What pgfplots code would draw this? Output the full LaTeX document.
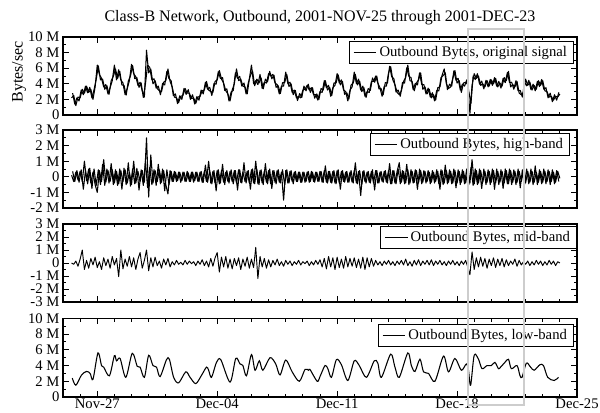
\documentclass[border=0pt]{standalone}
\usepackage{fontspec}
\setmainfont{Liberation Serif}
\usepackage{pgfplots}
\usepackage{pgfplotstable}
\pgfplotsset{compat=1.18}
\definecolor{boxgray}{RGB}{205,205,205}

\pgfplotstableread{
h O H M
12 2.2 0.1 0.0
15 2.5 -0.3 -0.1
18 1.2 0.3 0.15
21 2.3 -0.2 -0.25
24 2.2 0.35 0.3
27 3.3 -0.3 1.0
30 2.8 1.0 -0.5
33 3.7 -0.25 0.2
36 2.9 0.5 -0.4
39 3.3 -0.4 0.35
42 2.0 0.3 -0.15
45 3.6 -0.5 0.45
48 6.4 -1.0 -0.35
51 5.2 0.4 0.1
54 4.7 -0.3 -0.5
57 3.6 1.1 0.4
60 3.9 -0.35 -0.2
63 2.7 0.4 0.3
66 3.5 -0.3 -0.4
69 4.4 0.45 0.5
72 6.4 -0.4 -0.15
75 4.5 0.35 0.35
78 5.8 -0.45 -1.05
81 4.5 0.4 1.0
84 4.1 -0.3 -0.45
87 2.6 0.45 0.3
90 3.4 -0.4 -0.25
93 4.4 0.3 0.5
96 6.5 -0.5 -0.3
99 5.3 1.0 0.4
102 4.9 -0.4 -0.5
105 3.8 0.35 0.3
108 4.2 -0.3 0.8
111 3.1 0.4 -0.4
114 2.3 -0.35 0.2
117 8.3 2.5 1.0
120 5.4 -1.3 -0.6
123 5.9 1.4 0.4
126 4.0 -0.4 -0.3
129 4.4 0.4 0.45
132 3.4 -0.3 -0.2
135 3.1 0.45 0.15
138 3.0 -0.35 -0.4
141 4.2 0.4 0.3
144 4.4 -0.5 -0.15
147 5.9 -1.1 0.35
150 4.3 0.4 -0.3
153 3.6 -0.3 0.1
156 2.3 0.35 -0.15
159 2.2 -0.3 0.2
162 1.6 0.3 -0.1
165 2.4 -0.35 0.05
168 2.5 0.3 -0.15
171 3.4 -0.3 0.2
174 2.8 0.35 -0.1
177 2.8 -0.3 0.15
180 2.1 0.3 -0.05
183 2.2 -0.35 0.1
186 1.5 0.3 -0.2
189 2.3 -0.3 0.15
192 2.4 0.3 -0.1
195 3.1 -0.35 0.25
198 3.2 0.35 -0.2
201 4.3 -0.3 0.15
204 3.2 1.0 -0.3
207 3.0 -0.4 0.35
210 2.9 0.35 -0.25
213 4.3 -0.4 0.4
216 4.5 0.4 0.8
219 5.7 -0.45 -0.7
222 4.6 0.4 0.45
225 4.1 -0.35 -0.3
228 3.1 0.3 0.5
231 2.7 -0.3 -0.4
234 1.8 0.35 0.3
237 3.2 -0.3 -0.45
240 4.0 0.4 0.35
243 5.9 -0.4 -0.2
246 4.4 0.45 0.4
249 4.6 -0.35 -0.5
252 3.7 0.3 0.3
255 3.6 -0.3 -0.25
258 2.7 0.35 0.45
261 4.6 -0.4 -0.4
264 6.4 0.45 0.3
267 4.0 -0.4 -0.35
270 4.4 1.0 1.2
273 3.9 -0.45 -1.2
276 5.2 0.4 0.5
279 3.4 -0.4 -0.3
282 4.2 0.35 0.35
285 4.1 -0.35 -0.4
288 5.3 0.4 0.25
291 5.0 -0.45 -0.3
294 5.2 0.4 0.2
297 4.1 -0.35 -0.15
300 3.9 0.4 0.3
303 2.7 -0.35 -0.2
306 3.7 0.3 0.1
309 3.7 -1.5 -0.25
312 5.5 0.4 0.2
315 4.0 -0.4 -0.1
318 4.2 0.35 0.15
321 2.9 -0.3 -0.2
324 3.2 0.3 0.1
327 2.2 -0.3 -0.1
330 2.4 0.3 0.2
333 2.2 -0.35 -0.15
336 3.2 0.3 0.1
339 3.3 -0.35 -0.05
342 3.8 0.3 0.15
345 3.2 -0.35 -0.2
348 3.5 0.35 0.1
351 2.6 -0.3 -0.15
354 2.6 0.3 0.2
357 1.9 -0.3 -0.1
360 3.0 0.35 0.25
363 2.9 -0.35 -0.3
366 4.4 0.4 0.35
369 3.5 -0.35 -0.45
372 3.8 0.35 0.5
375 2.4 -0.35 -0.3
378 3.5 0.35 0.4
381 3.8 -0.4 -0.5
384 5.3 0.4 0.45
387 4.1 -0.4 -0.35
390 4.5 0.35 0.3
393 3.2 -0.3 -0.4
396 3.0 0.3 0.5
399 1.8 -0.35 -0.3
402 3.2 0.3 0.35
405 3.6 -0.35 -0.25
408 5.5 0.4 0.4
411 4.0 -0.4 -0.35
414 4.6 0.35 0.3
417 3.2 -1.2 -0.4
420 3.7 0.35 0.45
423 2.4 -0.3 -0.5
426 3.0 0.3 0.4
429 2.9 -0.35 -0.3
432 4.3 0.35 0.35
435 4.3 -0.4 -0.25
438 5.0 0.4 0.2
441 4.1 -0.4 -0.15
444 3.5 0.3 0.1
447 2.4 -0.3 -0.2
450 3.7 0.35 0.15
453 3.7 -0.35 -0.1
456 5.4 0.4 0.2
459 6.2 -0.45 -0.15
462 4.5 0.4 0.1
465 3.9 -0.4 -0.2
468 2.9 0.35 0.15
471 2.6 0.9 -0.1
474 3.1 -0.35 0.2
477 4.3 0.35 -0.15
480 4.8 -0.4 0.3
483 6.4 0.45 -0.2
486 4.4 -0.4 0.1
489 4.3 0.35 -0.25
492 3.1 -0.35 0.2
495 4.1 0.4 -0.15
498 4.5 -0.4 0.25
501 5.4 0.4 -0.2
504 3.3 -0.35 0.15
507 3.6 0.35 -0.1
510 2.7 -0.3 0.2
513 3.3 0.3 -0.15
516 2.2 -0.35 0.25
519 2.6 0.3 -0.2
522 1.9 -0.3 0.15
525 3.5 0.35 -0.1
528 3.6 -0.8 0.2
531 5.1 0.4 -0.15
534 5.9 -0.4 0.1
537 4.0 0.4 -0.2
540 3.4 -0.35 0.15
543 3.6 0.35 -0.1
546 4.7 -0.4 0.2
549 5.7 0.4 -0.15
552 4.1 -0.4 0.1
555 4.4 0.35 -0.2
558 2.9 -0.35 0.15
561 4.1 0.35 -0.1
564 4.2 -0.4 0.2
567 3.9 0.35 -0.3
570 0.2 -0.4 -0.9
573 3.8 1.1 0.85
576 5.3 -0.45 -0.5
579 4.7 0.4 0.4
582 5.0 -0.4 -0.3
585 3.8 0.4 0.45
588 4.0 -0.35 -0.25
591 3.6 0.35 0.35
594 4.4 -0.35 -0.4
597 3.7 0.35 0.3
600 4.5 -0.35 -0.2
603 4.0 0.4 0.4
606 4.7 -0.4 -0.35
609 3.6 0.35 0.3
612 4.1 -0.35 -0.2
615 3.7 0.35 0.35
618 4.8 -0.4 -0.3
621 4.4 0.4 0.25
624 5.6 -0.45 -0.2
627 3.6 0.4 0.15
630 3.9 -0.35 -0.1
633 3.6 0.35 0.3
636 4.3 -0.35 -0.25
639 2.8 0.35 0.2
642 2.6 -0.3 -0.15
645 2.9 0.35 0.1
648 4.6 -0.4 -0.1
651 3.8 0.35 0.15
654 4.2 -0.35 -0.2
657 3.2 0.35 0.1
660 3.8 -0.35 -0.15
663 3.3 0.3 0.2
666 4.4 -0.35 -0.1
669 3.8 0.35 0.15
672 4.4 -0.35 -0.2
675 3.1 0.35 0.1
678 3.0 -0.3 -0.15
681 2.3 0.35 0.2
684 2.4 -0.3 -0.1
687 1.9 0.3 0.15
690 2.4 -0.35 -0.2
693 2.3 0.35 0.1
696 2.7 -0.1 0.0
}\dense

\pgfplotstableread{
h Ob Hb
13.5 2.8 0.35
16.5 1.4 -0.3
19.5 2.2 0.4
22.5 1.8 -0.35
25.5 3.2 0.45
28.5 2.6 -0.8
31.5 3.7 0.4
34.5 2.85 -0.45
37.5 3.55 0.55
40.5 2.2 -0.75
43.5 3.25 0.5
46.5 4.55 -0.55
49.5 6.3 0.45
52.5 4.5 -0.5
55.5 4.6 0.8
58.5 3.3 -0.55
61.5 3.75 0.5
64.5 2.65 -0.4
67.5 4.4 0.85
70.5 4.95 -0.5
73.5 5.9 0.45
76.5 4.7 -0.55
79.5 5.6 0.5
82.5 3.85 -0.8
85.5 3.8 0.55
88.5 2.55 -0.5
91.5 4.35 0.9
94.5 5.0 -0.6
97.5 6.35 0.5
100.5 4.65 -0.45
103.5 4.8 0.55
106.5 3.55 -0.85
109.5 4.1 0.45
112.5 2.25 -0.55
115.5 4.0 1.0
118.5 6.4 -0.7
121.5 6.1 0.6
124.5 4.5 -0.5
127.5 4.65 0.45
130.5 3.45 -0.55
133.5 3.7 0.8
136.5 2.6 -0.45
139.5 4.05 0.5
142.5 3.85 -0.9
145.5 5.6 0.45
148.5 4.65 -0.5
151.5 4.4 0.35
154.5 2.5 -0.3
157.5 2.7 0.3
160.5 1.45 -0.25
163.5 2.45 0.3
166.5 2.0 -0.25
169.5 3.4 0.3
172.5 2.65 -0.3
175.5 3.25 0.25
178.5 2.0 -0.3
181.5 2.6 0.3
184.5 1.4 -0.25
187.5 2.35 0.3
190.5 1.9 -0.3
193.5 3.2 0.35
196.5 2.7 -0.35
199.5 4.2 0.75
202.5 3.3 -0.35
205.5 3.55 0.4
208.5 2.5 -0.45
211.5 4.05 0.4
214.5 3.95 -0.9
217.5 5.55 0.45
220.5 4.7 -0.4
223.5 4.8 0.8
226.5 3.15 -0.5
229.5 3.35 0.4
232.5 1.8 -0.4
235.5 2.95 0.45
238.5 3.15 -0.45
241.5 5.4 0.4
244.5 4.7 -0.85
247.5 4.95 0.45
250.5 3.7 -0.4
253.5 4.1 0.9
256.5 2.7 -0.4
259.5 4.1 0.4
262.5 5.05 -0.8
265.5 5.65 0.5
268.5 3.75 -0.45
271.5 4.6 0.5
274.5 4.1 -0.5
277.5 4.75 0.45
280.5 3.35 -0.5
283.5 4.6 0.85
286.5 4.25 -0.45
289.5 5.6 0.5
292.5 4.65 -0.75
295.5 5.1 0.4
298.5 3.55 -0.45
301.5 3.75 0.45
304.5 2.75 -0.4
307.5 4.15 0.45
310.5 4.15 -0.5
313.5 5.2 0.45
316.5 3.65 -0.4
319.5 4.0 0.4
322.5 2.6 -0.45
325.5 3.15 0.35
328.5 1.85 -0.3
331.5 2.75 0.3
334.5 2.25 -0.35
337.5 3.7 0.3
340.5 3.1 -0.3
343.5 3.95 0.35
346.5 2.9 -0.3
349.5 3.5 0.3
352.5 2.15 -0.35
355.5 2.7 0.3
358.5 2.0 -0.3
361.5 3.4 0.35
364.5 3.2 -0.35
367.5 4.4 0.7
370.5 3.2 -0.4
373.5 3.55 0.35
376.5 2.5 -0.4
379.5 4.1 0.4
382.5 4.1 -0.45
385.5 5.15 0.45
388.5 3.85 -0.8
391.5 4.3 0.4
394.5 2.65 -0.35
397.5 2.85 0.35
400.5 2.05 -0.35
403.5 3.85 0.4
406.5 4.1 -0.4
409.5 5.2 0.9
412.5 3.85 -0.45
415.5 4.35 0.4
418.5 3.0 -0.5
421.5 3.5 0.4
424.5 2.25 -0.4
427.5 3.4 0.35
430.5 3.15 -0.4
433.5 4.75 0.45
436.5 4.2 -0.85
439.5 5.0 0.4
442.5 3.35 -0.4
445.5 3.4 0.35
448.5 2.6 -0.35
451.5 4.15 0.4
454.5 4.1 -0.4
457.5 6.25 0.85
460.5 4.9 -0.45
463.5 4.65 0.4
466.5 2.95 -0.45
469.5 3.2 0.5
472.5 2.4 -0.45
475.5 4.15 0.4
478.5 4.1 -0.45
481.5 6.05 0.8
484.5 4.95 -0.5
487.5 4.8 0.45
490.5 3.25 -0.4
493.5 4.05 0.45
496.5 3.85 -0.8
499.5 5.4 0.5
502.5 3.9 -0.45
505.5 3.9 0.4
508.5 2.7 -0.4
511.5 3.45 0.4
514.5 2.3 -0.45
517.5 2.85 0.4
520.5 1.8 -0.4
523.5 3.15 0.45
526.5 3.1 -0.45
529.5 4.8 0.45
532.5 5.05 -0.5
535.5 5.4 0.75
538.5 3.25 -0.45
541.5 3.95 0.45
544.5 3.7 -0.45
547.5 5.65 0.5
550.5 4.45 -0.7
553.5 4.7 0.45
556.5 3.2 -0.5
559.5 3.95 0.45
562.5 3.7 -0.45
565.5 4.5 0.5
568.5 3.0 -0.5
571.5 1.5 0.6
574.5 5.0 -0.55
577.5 4.55 0.5
580.5 5.3 -0.5
583.5 3.95 0.5
586.5 4.35 -0.75
589.5 3.35 0.5
592.5 4.45 -0.5
595.5 3.6 0.45
598.5 4.55 -0.5
601.5 3.8 0.5
604.5 4.8 -0.8
607.5 3.7 0.5
610.5 4.3 -0.5
613.5 3.45 0.45
616.5 4.7 -0.75
619.5 4.15 0.5
622.5 5.45 -0.45
625.5 4.15 0.5
628.5 4.2 -0.5
631.5 3.3 0.45
634.5 4.4 -0.5
637.5 3.1 0.5
640.5 3.15 -0.7
643.5 2.3 0.45
646.5 4.2 -0.5
649.5 3.75 0.5
652.5 4.45 -0.45
655.5 3.25 0.5
658.5 3.95 -0.5
661.5 3.1 0.7
664.5 4.3 -0.5
667.5 3.65 0.45
670.5 4.55 -0.45
673.5 3.3 0.5
676.5 3.5 -0.45
679.5 2.2 0.45
682.5 2.8 -0.5
685.5 1.7 0.45
688.5 2.6 -0.45
691.5 1.9 0.4
694.5 2.9 -0.3
}\denseb

\pgfplotstableread{
h L
13 2.4
18 1.5
26 2.8
33 3.25
38 3.0
42 2.25
49 5.6
54 4.0
57 3.8
65 2.7
72 5.25
75 4.6
80 4.9
88 2.5
97 5.55
104 3.9
108 3.8
114 2.5
120 5.3
126 4.0
131 3.8
136 2.6
145 4.75
149 4.8
155 2.5
162 1.8
172 3.2
178 2.5
186 1.7
194 2.75
201 3.8
204 3.4
208 2.5
215 4.4
221 4.75
234 1.9
242 4.9
248 4.2
252 4.0
257 2.7
264 5.4
269 3.4
275 4.6
280 3.4
290 5.0
298 4.2
304 2.8
312 4.7
321 3.2
331 2.0
339 3.5
344 3.4
346 3.5
356 2.0
360 2.6
367 4.0
371 3.6
376 2.5
383 4.75
390 4.1
399 2.1
408 4.6
415 4.0
425 2.5
436 4.6
441 4.3
446 2.5
459 5.45
465 3.8
471 2.5
483 5.6
488 4.0
493 3.25
500 4.8
505 3.2
512 3.0
521 2.0
533 5.2
540 3.2
549 4.9
558 3.4
565 4.2
568 3.4
571 1.5
576 5.3
582 4.8
587 3.6
594 4.0
600 4.0
605 4.4
610 3.6
613 3.8
619 4.4
624 4.8
628 3.6
636 4.0
640 2.75
643 2.5
649 4.3
655 3.8
660 3.4
668 4.1
673 4.0
679 2.5
688 2.1
694 2.5
}\low

\newcommand{\lblfont}{\fontsize{11}{12.5}\selectfont}

\pgfplotsset{
  panel/.style={
    scale only axis, width=385.5pt, height=58.5pt,
    anchor=south west,
    xmin=0, xmax=720,
    xtick={48,216,384,552,720},
    minor xtick={0,24,...,720},
    xticklabels={},
    tick pos=both, tick align=inside,
    major tick length=4.5pt, minor tick length=2.5pt,
    axis line style={line width=1.1pt},
    every tick/.style={black, line width=0.7pt},
    every minor tick/.style={black, line width=0.7pt},
    minor y tick num=1,
    tick label style={font=\lblfont},
    yticklabel style={inner xsep=2.5pt},
    xticklabel style={inner sep=0pt, yshift=-1pt},
    legend style={draw=black, line width=0.6pt, font=\lblfont, anchor=north east,
      inner xsep=3pt, inner ysep=1.5pt},
    legend cell align=left,
  },
  dense/.style={black, line width=0.8pt, line join=round,
    legend image post style={line width=0.6pt}},
}

\begin{document}
\begin{tikzpicture}
\begin{axis}[panel, at={(47.25pt,222.75pt)},
  ymin=0, ymax=10, ytick={0,2,4,6,8,10},
  yticklabels={0,2 M,4 M,6 M,8 M,10 M},
  legend style={at={(1,1)}, xshift=-2.25pt, yshift=-3pt}]
\addplot[dense] table[x=h,y=O]{\dense};
\addlegendentry{Outbound Bytes, original signal}
\addplot[dense, forget plot] table[x=h,y=Ob]{\denseb};
\end{axis}

\begin{axis}[panel, at={(47.25pt,153pt)},
  ymin=-2, ymax=3, ytick={-2,-1,0,1,2,3},
  yticklabels={-2 M,-1 M,0,1 M,2 M,3 M},
  legend style={at={(1,1)}, xshift=-5.25pt, yshift=-2.25pt}]
\addplot[dense] table[x=h,y=H]{\dense};
\addlegendentry{Outbound Bytes, high-band}
\addplot[dense, forget plot] table[x=h,y=Hb]{\denseb};
\end{axis}

\begin{axis}[panel, at={(47.25pt,82.5pt)},
  ymin=-3, ymax=3, ytick={-3,-2,-1,0,1,2,3},
  yticklabels={-3 M,-2 M,-1 M,0,1 M,2 M,3 M},
  legend style={at={(1,1)}, xshift=0pt, yshift=-1.5pt}]
\addplot[black, line width=0.7pt, line join=round] table[x=h,y=M]{\dense};
\addlegendentry{Outbound Bytes, mid-band}
\end{axis}

\begin{axis}[panel, at={(47.25pt,11.25pt)}, height=59pt,
  ymin=0, ymax=10, ytick={0,2,4,6,8,10},
  yticklabels={0,2 M,4 M,6 M,8 M,10 M},
  xticklabels={Nov-27,Dec-04,Dec-11,Dec-18,Dec-25},
  legend style={at={(1,1)}, xshift=-2.25pt, yshift=-4.5pt}]
\addplot[black, line width=0.8pt, smooth] table[x=h,y=L]{\low};
\addlegendentry{Outbound Bytes, low-band}
\end{axis}

\node[font=\fontsize{12}{14}\selectfont] at (240pt,296pt) {Class-B Network, Outbound, 2001-NOV-25 through 2001-DEC-23};
\node[font=\fontsize{12}{14}\selectfont, rotate=90] at (14.25pt,255pt) {Bytes/sec};
\draw[boxgray, line width=1.5pt] (351pt,5.25pt) rectangle (393pt,287.25pt);

\pgfresetboundingbox
\path (0,0) rectangle (450pt,309pt);
\end{tikzpicture}
\end{document}
